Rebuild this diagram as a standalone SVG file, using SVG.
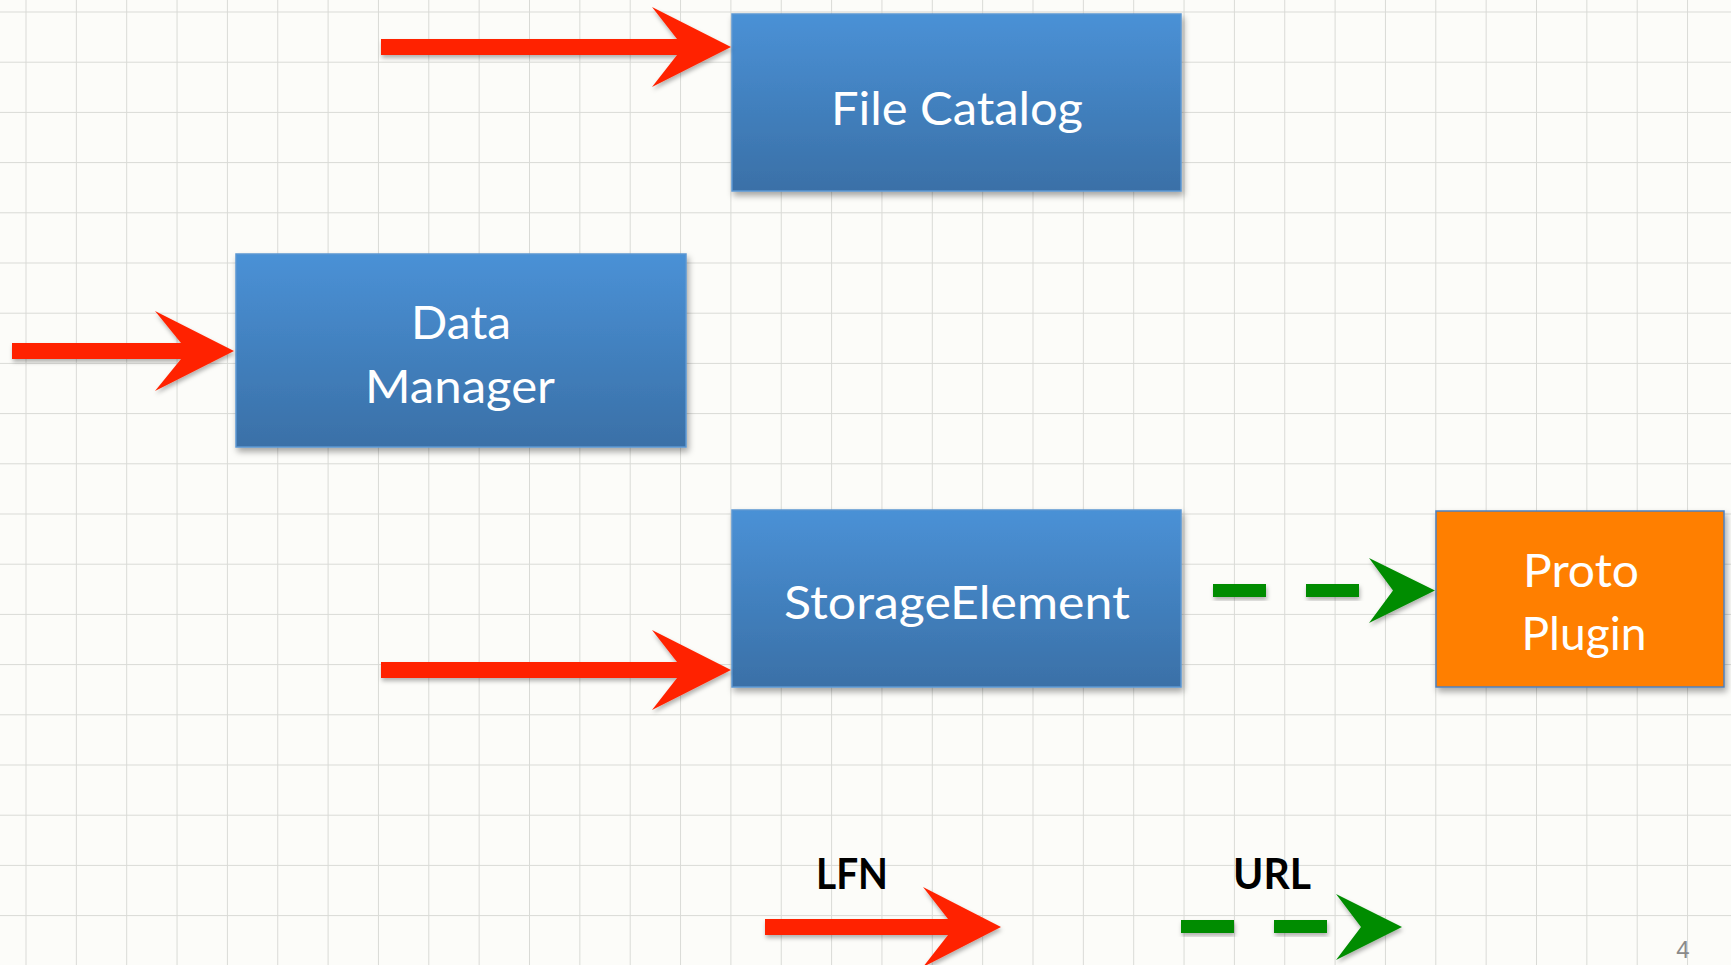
<svg xmlns="http://www.w3.org/2000/svg" width="1731" height="965" viewBox="0 0 1731 965">
  <defs>
    <pattern id="grid" x="25.5" y="11.5" width="50.35" height="50.2" patternUnits="userSpaceOnUse">
      <path d="M0 0V50.2M0 0H50.35" fill="none" stroke="#d9dad6" stroke-width="2"/>
    </pattern>
    <linearGradient id="blueFill" x1="0" y1="0" x2="0" y2="1">
      <stop offset="0" stop-color="#4a91d6"/>
      <stop offset="1" stop-color="#3a70a7"/>
    </linearGradient>
    <filter id="shadow" x="-10%" y="-10%" width="125%" height="130%">
      <feDropShadow dx="2" dy="4" stdDeviation="3" flood-color="#000" flood-opacity="0.35"/>
    </filter>
    <filter id="arrowShadow" x="-10%" y="-20%" width="125%" height="150%">
      <feDropShadow dx="1" dy="3" stdDeviation="2" flood-color="#000" flood-opacity="0.3"/>
    </filter>
  </defs>
  <style>
    .box { fill: url(#blueFill); stroke: #5b97d2; stroke-width: 1.5; filter: url(#shadow); }
    .plugin { fill: #ff7f00; stroke: #4f81bd; stroke-width: 1.5; filter: url(#shadow); }
    .label { font-family: Lato, "Open Sans", "Liberation Sans", sans-serif; font-size: 46px; fill: #ffffff; text-anchor: middle; }
    .legend { font-family: Lato, "Liberation Sans", sans-serif; font-weight: bold; font-size: 42px; fill: #000000; text-anchor: middle; }
    .lfn { fill: #ff2400; filter: url(#arrowShadow); }
    .url { fill: #008c00; filter: url(#arrowShadow); }
  </style>

  <!-- page background with squared grid -->
  <rect width="1731" height="965" fill="#fcfcf9"/>
  <rect width="1731" height="965" fill="url(#grid)"/>

  <g id="file-catalog">
    <rect class="box" x="732" y="14" width="449" height="177"/>
    <text class="label" x="957" y="125" textLength="252" lengthAdjust="spacingAndGlyphs">File Catalog</text>
  </g>

  <g id="data-manager">
    <rect class="box" x="236" y="254" width="450" height="193"/>
    <text class="label" x="461" y="339" textLength="100" lengthAdjust="spacingAndGlyphs">Data</text>
    <text class="label" x="460" y="403" textLength="190" lengthAdjust="spacingAndGlyphs">Manager</text>
  </g>

  <g id="storage-element">
    <rect class="box" x="732" y="510" width="449" height="177"/>
    <text class="label" x="957" y="619" textLength="346" lengthAdjust="spacingAndGlyphs">StorageElement</text>
  </g>

  <g id="proto-plugin">
    <rect class="plugin" x="1436" y="511" width="288" height="176"/>
    <text class="label" x="1581" y="587" textLength="116" lengthAdjust="spacingAndGlyphs">Proto</text>
    <text class="label" x="1584" y="650" textLength="125" lengthAdjust="spacingAndGlyphs">Plugin</text>
  </g>

  <g id="connectors">
    <!-- LFN arrows -->
    <polygon class="lfn" points="381,39 677,39 652,7 731,47 652,87 677,55 381,55"/>
    <polygon class="lfn" points="12,343 181,343 155,311 234,351 155,391 181,359 12,359"/>
    <polygon class="lfn" points="381,662 677,662 652,630 731,670 652,710 677,678 381,678"/>
    <!-- URL arrow -->
    <rect class="url" x="1213" y="584" width="53" height="13"/>
    <rect class="url" x="1306" y="584" width="53" height="13"/>
    <polygon class="url" points="1369,558 1435,590.5 1369,623 1393,590.5"/>
  </g>

  <g id="legend">
    <text class="legend" x="852" y="889" textLength="72" lengthAdjust="spacingAndGlyphs">LFN</text>
    <polygon class="lfn" points="765,919 948,919 923,887 1001,927 923,967 948,935 765,935"/>
    <text class="legend" x="1272" y="889" textLength="78" lengthAdjust="spacingAndGlyphs">URL</text>
    <rect class="url" x="1181" y="920" width="53" height="13"/>
    <rect class="url" x="1274" y="920" width="53" height="13"/>
    <polygon class="url" points="1336,894 1402,927 1336,960 1361,927"/>
  </g>

  <text x="1683" y="958" font-family="'Liberation Sans', sans-serif" font-size="24" fill="#8a8a8a" text-anchor="middle">4</text>
</svg>
